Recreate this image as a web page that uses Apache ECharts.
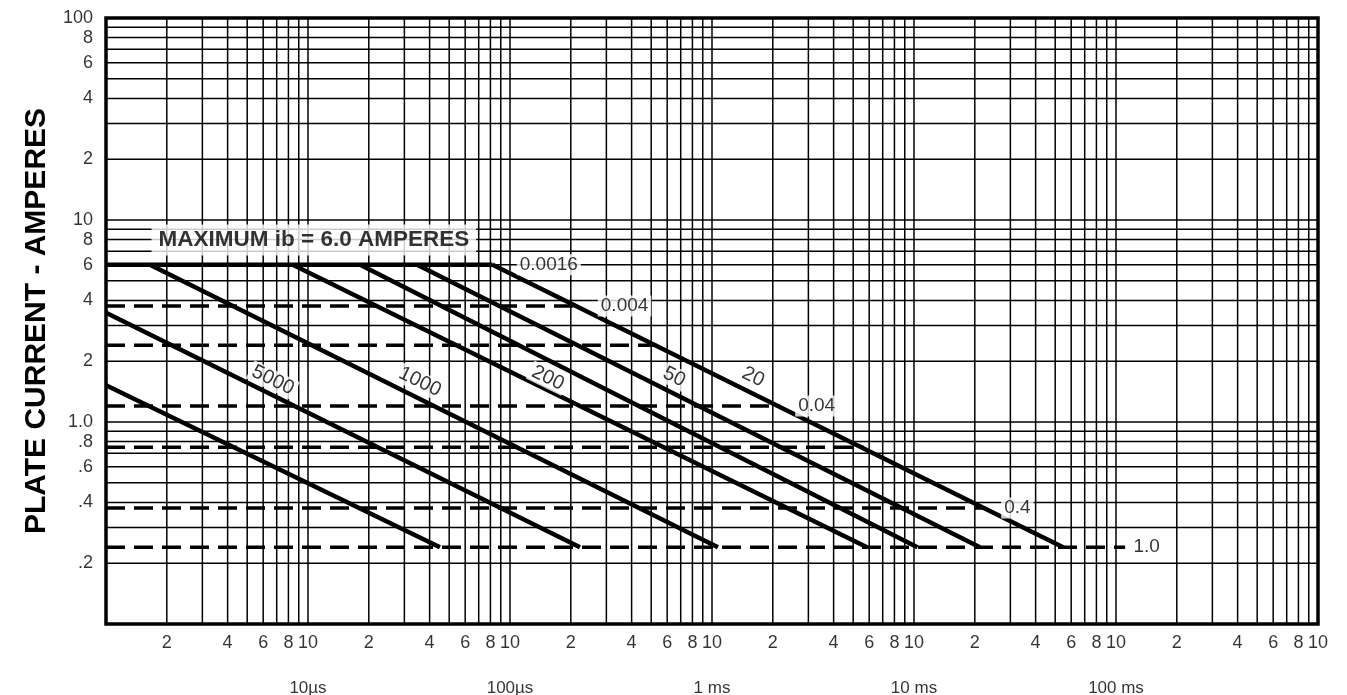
<!DOCTYPE html>
<html>
<head>
<meta charset="utf-8">
<script src="https://cdn.jsdelivr.net/npm/echarts@6.0.0/dist/echarts.min.js"></script>
<style>
html, body { margin: 0; padding: 0; background: #fff; }
#main { width: 1347px; height: 695px; }
</style>
</head>
<body>
<div id="main"></div>
<script>
var chartDom = document.getElementById('main');
var myChart = echarts.init(chartDom);
var option;

// axis ranges and grid
var decadesX = [1e-6, 1e-5, 1e-4, 1e-3, 1e-2, 1e-1];
var decadesY = [0.1, 1, 10];
var gridSteps = [1, 2, 3, 4, 5, 6, 7, 8, 9];
var xMax = 1;
var yMax = 100;

// tick labels
var xTickSteps = [2, 4, 6, 8, 10];
var xTickText = ['2', '4', '6', '8', '10'];
var unitValues = [1e-5, 1e-4, 1e-3, 1e-2, 1e-1];
var unitText = ['10µs', '100µs', '1 ms', '10 ms', '100 ms'];
var yTickValues = [100, 80, 60, 40, 20, 10, 8, 6, 4, 2, 1, 0.8, 0.6, 0.4, 0.2];
var yTickText = ['100', '8', '6', '4', '2', '10', '8', '6', '4', '2', '1.0', '.8', '.6', '.4', '.2'];

// maximum plate current line
var maxCurrent = 6.0;
var maxEndT = 8.2e-5;

// solid diagonal limit lines (seconds, amperes)
var diagStartT = [1e-6, 1e-6, 1.65e-6, 8.4e-6, 1.81e-5, 3.47e-5, 8.2e-5];
var diagStartI = [1.52, 3.47, 6, 6, 6, 6, 6];
var diagEndT = [4.5e-5, 2.22e-4, 1.07e-3, 5.85e-3, 1.04e-2, 2.12e-2, 5.47e-2];
var diagEndI = [0.24, 0.24, 0.24, 0.24, 0.24, 0.24, 0.24];

// dashed duty lines
var dashLevels = [3.75, 2.4, 1.2, 0.75, 0.375, 0.24];
var dashEndT = [2.2e-4, 5.3e-4, 2.15e-3, 5.65e-3, 2.25e-2, 1.11e-1];

// duty labels
var dutyText = ['0.0016', '0.004', '0.04', '0.4', '1.0'];
var dutyT = [1.08e-4, 2.72e-4, 2.58e-3, 2.7e-2, 1.18e-1];
var dutyI = [6, 3.75, 1.2, 0.375, 0.24];

// rate labels on diagonals
var rateText = ['5000', '1000', '200', '50', '20'];
var rateT = [6.7e-6, 3.58e-5, 1.54e-4, 6.49e-4, 1.6e-3];
var rateI = [1.61, 1.58, 1.65, 1.67, 1.67];

var maxText = 'MAXIMUM ib = 6.0 AMPERES';
var maxTextT = 1.68e-6;
var maxTextI = 7.96;

var series = [];

function gridSeries(points) {
  return {
    type: 'line',
    symbol: 'none',
    silent: true,
    z: 1,
    lineStyle: { color: '#000', width: 1.5 },
    data: points
  };
}

// gridlines
decadesX.forEach(function (d) {
  gridSteps.forEach(function (s) {
    if (s > 1 || d > decadesX[0]) {
      series.push(gridSeries([[s * d, decadesY[0]], [s * d, yMax]]));
    }
  });
});
decadesY.forEach(function (d) {
  gridSteps.forEach(function (s) {
    if (s > 1 || d > decadesY[0]) {
      series.push(gridSeries([[decadesX[0], s * d], [xMax, s * d]]));
    }
  });
});

series.push({
  type: 'line',
  symbol: 'none',
  z: 3,
  lineStyle: { color: '#000', width: 4.5 },
  data: [[decadesX[0], maxCurrent], [maxEndT, maxCurrent]]
});

for (var i = 0; i < diagStartT.length; i++) {
  series.push({
    type: 'line',
    symbol: 'none',
    z: 3,
    lineStyle: { color: '#000', width: 4.5 },
    data: [[diagStartT[i], diagStartI[i]], [diagEndT[i], diagEndI[i]]]
  });
}

for (var j = 0; j < dashLevels.length; j++) {
  series.push({
    type: 'line',
    symbol: 'none',
    z: 2,
    lineStyle: { color: '#000', width: 3.5, type: [19, 9] },
    data: [[decadesX[0], dashLevels[j]], [dashEndT[j], dashLevels[j]]]
  });
}

var numFont = 'Liberation Sans';

function labelSeries(points, label) {
  return {
    type: 'scatter',
    symbolSize: 0,
    z: 6,
    silent: true,
    data: points,
    label: Object.assign({ show: true, formatter: '{b}', color: '#000', fontFamily: numFont }, label)
  };
}

// duty labels
series.push(labelSeries(dutyText.map(function (t, k) {
  return { name: t, value: [dutyT[k], dutyI[k]] };
}), { position: 'right', distance: 0, fontSize: 19, backgroundColor: '#fff', padding: [1, 3] }));

// rate labels, breaking the diagonal they sit on
series.push(labelSeries(rateText.map(function (t, k) {
  return { name: t, value: [rateT[k], rateI[k]] };
}), { position: 'inside', fontSize: 20, rotate: -26, backgroundColor: '#fff', padding: [0, 3] }));

// maximum text
series.push(labelSeries([{ name: maxText, value: [maxTextT, maxTextI] }],
  { position: 'right', distance: 0, fontSize: 22.5, fontWeight: 'bold', backgroundColor: '#fff', padding: [4, 7] }));

// x tick labels
var xTickPoints = [];
decadesX.forEach(function (d) {
  xTickSteps.forEach(function (s, k) {
    xTickPoints.push({ name: xTickText[k], value: [s * d, decadesY[0]] });
  });
});
series.push(labelSeries(xTickPoints, { position: 'bottom', distance: 10, fontSize: 18 }));

series.push(labelSeries(unitValues.map(function (v, k) {
  return { name: unitText[k], value: [v, decadesY[0]] };
}), { position: 'bottom', distance: 56, fontSize: 17 }));

// y tick labels
series.push(labelSeries(yTickValues.map(function (v, k) {
  return { name: yTickText[k], value: [decadesX[0], v] };
}), { position: 'left', distance: 13, fontSize: 18 }));

option = {
  animation: false,
  backgroundColor: '#fff',
  grid: {
    left: 106, top: 18, width: 1212, height: 606,
    show: true, borderColor: '#000', borderWidth: 3.5, backgroundColor: 'transparent'
  },
  xAxis: {
    type: 'log', logBase: 10, min: 1e-6, max: 1,
    axisLine: { show: false }, axisTick: { show: false },
    axisLabel: { show: false }, splitLine: { show: false }
  },
  yAxis: {
    type: 'log', logBase: 10, min: 0.1, max: 100,
    name: 'PLATE CURRENT - AMPERES',
    nameLocation: 'middle',
    nameGap: 54,
    nameTextStyle: { fontSize: 30, fontWeight: 'bold', color: '#000', fontFamily: 'Liberation Sans' },
    axisLine: { show: false }, axisTick: { show: false },
    axisLabel: { show: false }, splitLine: { show: false }
  },
  series: series
};

option && myChart.setOption(option);
</script>
</body>
</html>
